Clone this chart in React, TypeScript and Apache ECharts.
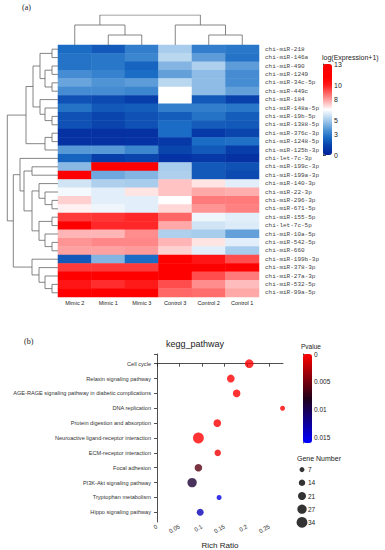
import React, { useEffect, useRef } from 'react';
import * as echarts from 'echarts';

// ---------- (a) heatmap data ----------
const samples = ['Mimic 2', 'Mimic 1', 'Mimic 3', 'Control 3', 'Control 2', 'Control 1'];
const mirnas = [
  'chi-miR-218', 'chi-miR-146a', 'chi-miR-490', 'chi-miR-1249', 'chi-miR-34c-5p', 'chi-miR-449c',
  'chi-miR-184', 'chi-miR-148a-5p', 'chi-miR-19b-5p', 'chi-miR-1388-5p', 'chi-miR-376c-3p', 'chi-miR-1248-5p',
  'chi-miR-125b-3p', 'chi-let-7c-3p', 'chi-miR-199c-3p', 'chi-miR-199a-3p', 'chi-miR-140-3p', 'chi-miR-22-3p',
  'chi-miR-296-3p', 'chi-miR-671-5p', 'chi-miR-155-5p', 'chi-let-7c-5p', 'chi-miR-10a-5p', 'chi-miR-542-5p',
  'chi-miR-660', 'chi-miR-199b-3p', 'chi-miR-378-3p', 'chi-miR-27a-3p', 'chi-miR-532-5p', 'chi-miR-99a-5p',
];
const mimic2 = [2.5, 2.7, 2.7, 3.4, 4.0, 3.4, 1.8, 2.7, 1.8, 1.8, 0.7, 0.7, 3.7, 2.3, 4.5, 11, 5.7, 6.3, 7.2, 6.7, 9.5, 11, 7.6, 8.1, 7.9, 2.0, 9.5, 11.5, 10.2, 11.5];
const mimic1 = [2.0, 2.8, 2.8, 3.1, 3.6, 3.4, 1.6, 2.0, 1.5, 1.5, 0.7, 0.7, 3.7, 1.2, 11, 4.1, 5.1, 6.0, 6.0, 6.2, 9.6, 9.8, 7.6, 8.3, 7.9, 4.4, 9.5, 11.5, 9.7, 11.5];
const mimic3 = [3.0, 3.2, 2.3, 2.5, 3.8, 3.2, 1.2, 2.1, 1.8, 1.8, 0.7, 0.8, 3.2, 1.5, 11, 4.4, 5.0, 6.9, 6.0, 6.0, 9.8, 9.8, 8.2, 8.3, 8.0, 2.5, 9.5, 11.5, 10.0, 11.5];
const control3 = [5.0, 5.3, 4.4, 3.9, 5.3, 6.5, 6.5, 3.0, 2.1, 2.5, 2.5, 1.0, 1.5, 0.8, 5.0, 5.1, 7.4, 7.4, 6.5, 7.1, 8.8, 7.8, 5.1, 7.6, 7.2, 12, 12, 11, 9.2, 8.8];
const control2 = [3.0, 3.8, 5.1, 4.6, 4.6, 4.6, 2.0, 3.0, 2.7, 2.1, 1.0, 2.5, 2.0, 1.0, 2.0, 2.0, 6.9, 7.8, 8.5, 8.1, 6.2, 5.7, 5.0, 6.9, 6.0, 10.2, 11, 9.2, 8.2, 8.7];
const control1 = [2.8, 2.7, 3.8, 3.4, 3.4, 3.9, 1.3, 2.8, 2.1, 2.0, 1.5, 2.6, 1.2, 0.7, 1.8, 1.6, 6.0, 7.7, 8.5, 8.4, 6.0, 5.9, 3.9, 6.0, 5.0, 9.2, 11, 8.5, 7.5, 7.8];
const expressionTicks = [0, 3, 5, 8, 10, 13];

// dendrograms: [left, right, mergeHeight]; leaves are indices
type TreeNode = number | [TreeNode, TreeNode, number];
const sampleTree: TreeNode = [[0, [1, 2, 1], 2], [3, [4, 5, 1], 2], 3];
const mirnaTree: TreeNode = [
  [
    [
      [[0, 1, 6], [[2, 3, 6], [4, 5, 6], 13], 18],
      [6, [7, [8, 9, 6], 13], 18],
      25,
    ],
    [[10, 11, 6], 12, 13],
    32,
  ],
  [
    [13, [[14, 15, 26], [[16, [17, [18, 19, 6], 13], 19], [[20, 21, 6], [22, [23, 24, 6], 13], 19], 26], 34], 38],
    [25, [26, [27, [28, 29, 6], 13], 19], 26],
    44.7,
  ],
  50.7,
];

// ---------- (b) KEGG bubble data ----------
const pathways = [
  'Cell cycle', 'Relaxin signaling pathway', 'AGE-RAGE signaling pathway in diabetic complications',
  'DNA replication', 'Protein digestion and absorption', 'Neuroactive ligand-receptor interaction',
  'ECM-receptor interaction', 'Focal adhesion', 'PI3K-Akt signaling pathway', 'Tryptophan metabolism',
  'Hippo signaling pathway',
];
const richRatio = [0.205, 0.164, 0.177, 0.279, 0.134, 0.092, 0.135, 0.092, 0.078, 0.138, 0.096];
const pValue = [0.0, 0.0, 0.0, 0.0, 0.0, 0.0, 0.0005, 0.006, 0.009, 0.015, 0.0135];
const geneNumber = [24, 20, 19, 7, 19, 34, 14, 19, 27, 7, 16];
const geneLegend = [7, 14, 21, 27, 34];

// ---------- helpers (styling) ----------
const heatStops: [number, string][] = [
  [0, '#001f99'], [1.5, '#0a45ae'], [2.5, '#1a6cc4'], [3.5, '#4a90d4'], [5, '#a8ccec'],
  [6.5, '#ffffff'], [8, '#ff9a9a'], [10, '#ff1a1a'], [11, '#ff0000'], [13, '#ff0000'],
];
function hexToRgb(h: string) {
  return [parseInt(h.slice(1, 3), 16), parseInt(h.slice(3, 5), 16), parseInt(h.slice(5, 7), 16)];
}
function colorAt(v: number) {
  for (let i = 0; i < heatStops.length - 1; i++) {
    const [a, ca] = heatStops[i];
    const [b, cb] = heatStops[i + 1];
    if (v >= a && v <= b) {
      const t = (v - a) / (b - a);
      const A = hexToRgb(ca), B = hexToRgb(cb);
      const c = A.map((x, k) => Math.round(x + (B[k] - x) * t));
      return `rgb(${c[0]},${c[1]},${c[2]})`;
    }
  }
  return heatStops[heatStops.length - 1][1];
}
const heatColors: string[] = [];
for (let k = 0; k <= 52; k++) heatColors.push(colorAt(k * 0.25));

function bubbleSize(n: number) {
  return 5 + (n - 7) * 0.215;
}

function layoutTree(node: TreeNode, out: number[][][]): { pos: number; h: number } {
  if (typeof node === 'number') return { pos: node, h: 0 };
  const a = layoutTree(node[0], out);
  const b = layoutTree(node[1], out);
  const h = node[2];
  out.push([[a.pos, a.h], [a.pos, h], [b.pos, h], [b.pos, b.h]]);
  return { pos: (a.pos + b.pos) / 2, h };
}

const SANS = 'Liberation Sans, Arial, sans-serif';

export default function App() {
  const ref = useRef<HTMLDivElement>(null);
  useEffect(() => {
    if (!ref.current) return;
    const chart = echarts.init(ref.current, undefined, { renderer: 'svg' });

    const cols = [mimic2, mimic1, mimic3, control3, control2, control1];
    const heatData: number[][] = [];
    cols.forEach((col, c) => col.forEach((v, r) => heatData.push([c, r, v])));

    const rowSegs: number[][][] = [];
    layoutTree(mirnaTree, rowSegs);
    const leftLines = rowSegs.map((s) => ({ coords: s.map(([pos, h]) => [h, pos]) }));
    const colSegs: number[][][] = [];
    layoutTree(sampleTree, colSegs);
    const topLines = colSegs.map((s) => ({ coords: s }));

    const bubbleData = pathways.map((p, i) => [richRatio[i], i, pValue[i], geneNumber[i]]);
    const legendData = geneLegend.map((n, i) => [0, i, n]);

    const hidden = { show: false };
    const titleStyle = (size: number, family = SANS) => ({
      fontFamily: family, fontSize: size, fontWeight: 'normal' as const, color: '#222',
    });

    const option: any = {
      animation: false,
      backgroundColor: '#ffffff',
      title: [
        { text: '(a)', left: 22, top: 3, padding: 0, textStyle: titleStyle(8, 'Liberation Serif, serif') },
        { text: '(b)', left: 24, top: 337, padding: 0, textStyle: titleStyle(8, 'Liberation Serif, serif') },
        { text: 'kegg_pathway', left: 166, top: 339, padding: 0, textStyle: titleStyle(9) },
        { text: 'log(Expression+1)', left: 322, top: 54, padding: 0, textStyle: titleStyle(7) },
        { text: 'Pvalue', left: 301, top: 343, padding: 0, textStyle: titleStyle(6.5) },
        { text: 'Gene Number', left: 297, top: 455, padding: 0, textStyle: titleStyle(7) },
      ],
      grid: [
        { left: 58, top: 45, width: 201, height: 252 },
        { left: 7, top: 45, width: 51, height: 252 },
        { left: 58, top: 15, width: 201, height: 30 },
        { left: 157, top: 354, width: 126, height: 169 },
        { left: 297, top: 463, width: 10, height: 66 },
        { left: 303, top: 354, width: 9, height: 89 },
        { left: 323, top: 64, width: 9, height: 91 },
      ],
      xAxis: [
        {
          type: 'category', gridIndex: 0, data: samples,
          axisLine: hidden, axisTick: hidden, splitLine: hidden,
          axisLabel: { fontSize: 5.5, margin: 3, color: '#222', fontFamily: SANS },
        },
        { type: 'value', gridIndex: 1, min: 0, max: 51, inverse: true, show: false },
        { type: 'value', gridIndex: 2, min: -0.5, max: 5.5, show: false },
        {
          type: 'value', gridIndex: 3, min: 0, max: 0.28, interval: 0.05,
          name: 'Rich Ratio', nameLocation: 'middle', nameGap: 19,
          nameTextStyle: { fontSize: 8, color: '#222', fontFamily: SANS },
          axisLine: { show: true, lineStyle: { color: '#222', width: 0.8 } },
          axisTick: { show: true, length: 3, lineStyle: { color: '#222', width: 0.8 } },
          splitLine: hidden,
          axisLabel: { rotate: 30, fontSize: 6, color: '#333', margin: 4, showMaxLabel: false, fontFamily: SANS },
        },
        { type: 'value', gridIndex: 4, min: -1, max: 1, show: false },
        { type: 'value', gridIndex: 5, show: false },
        { type: 'value', gridIndex: 6, show: false },
      ],
      yAxis: [
        {
          type: 'category', gridIndex: 0, data: mirnas, inverse: true, position: 'right',
          axisLine: hidden, axisTick: hidden, splitLine: hidden,
          axisLabel: { fontSize: 6, margin: 6, color: '#444', fontFamily: 'Liberation Mono, monospace', interval: 0 },
        },
        { type: 'value', gridIndex: 1, min: -0.5, max: 29.5, inverse: true, show: false },
        { type: 'value', gridIndex: 2, min: 0, max: 3, show: false },
        {
          type: 'value', gridIndex: 3, min: -0.65, max: 10.65, inverse: true, offset: 3,
          axisLine: { show: true, lineStyle: { color: '#222', width: 0.8 } },
          axisTick: { show: true, length: 3, lineStyle: { color: '#222', width: 0.8 }, customValues: [-0.65, ...pathways.map((_, i) => i)] },
          splitLine: hidden,
          axisLabel: {
            fontSize: 5.6, color: '#333', margin: 3, fontFamily: SANS,
            customValues: pathways.map((_, i) => i),
            formatter: (v: number) => pathways[Math.round(v)] ?? '',
          },
        },
        {
          type: 'category', gridIndex: 4, data: geneLegend.map(String), inverse: true, position: 'right',
          axisLine: hidden, axisTick: hidden, splitLine: hidden,
          axisLabel: { fontSize: 6.5, margin: 1, color: '#222', fontFamily: SANS },
        },
        {
          type: 'value', gridIndex: 5, min: 0, max: 0.016, interval: 0.005, inverse: true, position: 'right',
          axisLine: { show: true, lineStyle: { color: '#222', width: 0.8 } },
          axisTick: { show: true, length: 3, lineStyle: { color: '#222', width: 0.8 } },
          splitLine: hidden,
          axisLabel: { fontSize: 6.5, margin: 2, color: '#222', showMaxLabel: false, fontFamily: SANS },
        },
        {
          type: 'category', gridIndex: 6, data: Array.from({ length: 14 }, (_, i) => String(i)),
          boundaryGap: false, position: 'right',
          axisLine: { show: true, lineStyle: { color: '#222', width: 0.8 } },
          axisTick: { show: true, length: 3, interval: (i: number) => expressionTicks.includes(i), lineStyle: { color: '#222', width: 0.8 } },
          splitLine: hidden,
          axisLabel: { fontSize: 7, margin: 2, color: '#222', fontFamily: SANS, interval: (i: number) => expressionTicks.includes(i) },
        },
      ],
      visualMap: [
        {
          type: 'continuous', min: 0, max: 13, seriesIndex: 0, dimension: 2,
          left: 323, top: 64, itemWidth: 9, itemHeight: 91, padding: 0,
          calculable: false, inRange: { color: heatColors }, text: null, showLabel: false,
        },
        {
          type: 'continuous', min: 0, max: 0.016, seriesIndex: 3, dimension: 2, inverse: true,
          left: 303, top: 354, itemWidth: 9, itemHeight: 89, padding: 0,
          calculable: false, inRange: { color: ['#ff0000', '#200018', '#0000ff'] }, text: null, showLabel: false,
        },
      ],
      series: [
        { type: 'heatmap', xAxisIndex: 0, yAxisIndex: 0, data: heatData, silent: true },
        {
          type: 'lines', coordinateSystem: 'cartesian2d', xAxisIndex: 1, yAxisIndex: 1, polyline: true,
          data: leftLines, silent: true, lineStyle: { color: '#666', width: 0.8, opacity: 1 },
        },
        {
          type: 'lines', coordinateSystem: 'cartesian2d', xAxisIndex: 2, yAxisIndex: 2, polyline: true,
          data: topLines, silent: true, lineStyle: { color: '#666', width: 0.8, opacity: 1 },
        },
        {
          type: 'scatter', xAxisIndex: 3, yAxisIndex: 3, data: bubbleData,
          symbolSize: (v: number[]) => bubbleSize(v[3]), silent: true,
        },
        {
          type: 'scatter', xAxisIndex: 4, yAxisIndex: 4, data: legendData,
          symbolSize: (v: number[]) => bubbleSize(v[2]), itemStyle: { color: '#000' }, silent: true,
        },
      ],
    };
    chart.setOption(option);
    return () => chart.dispose();
  }, []);

  return (
    <div
      ref={ref}
      style={{ position: 'fixed', left: 0, top: 0, width: 385, height: 550, background: '#fff' }}
    />
  );
}
